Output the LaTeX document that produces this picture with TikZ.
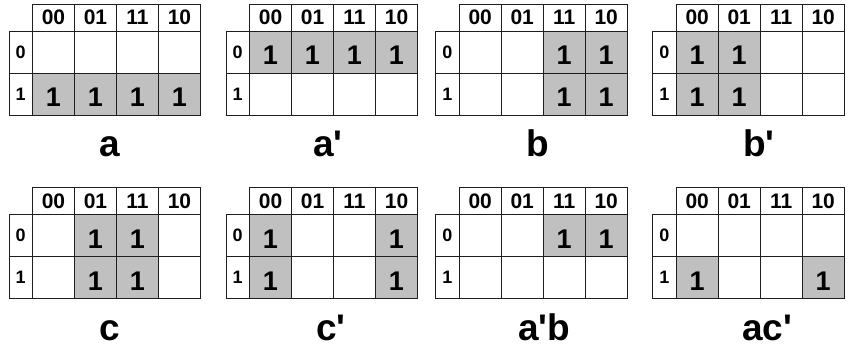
\documentclass[tikz,border=0pt]{standalone}
\usepackage{fontspec}
\setmainfont{Liberation Sans}
\usetikzlibrary{positioning}
\definecolor{kgray}{RGB}{192,192,192}
\definecolor{kline}{RGB}{30,30,30}

\tikzset{
    kbox/.style={draw=kline, line width=0.8pt, inner sep=0pt},
    kcell/.style={kbox, minimum width=42pt, minimum height=42pt},
    khead/.style={kbox, minimum width=42pt, minimum height=27pt, font=\fontsize{21}{21}\selectfont\bfseries},
    kside/.style={kbox, minimum width=23.5pt, minimum height=42pt, font=\fontsize{18}{18}\selectfont\bfseries},
    kfill/.style={fill=kgray, minimum width=42pt, minimum height=42pt, inner sep=0pt},
    kone/.style={inner sep=0pt, yshift=-3.5pt, font=\fontsize{27}{27}\selectfont\bfseries},
    kname/.style={anchor=base, inner sep=0pt, font=\fontsize{37}{37}\selectfont\bfseries}
}
\newcommand{\prm}{\textquotesingle}

% #1 name, #2/#3 top left corner, #4 cells holding a 1 (row/col)
\newcommand{\kmap}[4]{%
    \begin{scope}[shift={(#2,#3)}]
        \foreach \r/\c in {#4}
            \node[kfill] (#1-g\r\c) at (44.5+42*\c,48+42*\r) {};
        \foreach \c/\t in {0/00,1/01,2/11,3/10}
            \node[khead] (#1-h\c) at (44.5+42*\c,13.5) {\t};
        \foreach \r in {0,1} {
            \node[kside] (#1-s\r) at (11.75,48+42*\r) {\r};
            \foreach \c in {0,...,3}
                \node[kcell] (#1-\r\c) at (44.5+42*\c,48+42*\r) {};
        }
        \foreach \r/\c in {#4}
            \node[kone] (#1-one\r\c) at (#1-\r\c) {1};
    \end{scope}}

\begin{document}
\begin{tikzpicture}[x=1pt, y=-1pt]
    \useasboundingbox (0,0) rectangle (848,347);

    % top row
    \kmap{ma}{9}{4}{1/0,1/1,1/2,1/3}
    \kmap{mna}{226}{4}{0/0,0/1,0/2,0/3}
    \kmap{mb}{435.7}{4}{0/2,0/3,1/2,1/3}
    \kmap{mnb}{652.7}{4}{0/0,0/1,1/0,1/1}

    % bottom row
    \kmap{mc}{9}{187.3}{0/1,0/2,1/1,1/2}
    \kmap{mnc}{226}{187.3}{0/0,0/3,1/0,1/3}
    \kmap{mnab}{435.7}{187.3}{0/2,0/3}
    \kmap{manc}{652.7}{187.3}{1/0,1/3}

    \node[kname] (la) at (110,157) {a};
    \node[kname] (lna) at (328,157) {a\prm};
    \node[kname] (lb) at (538,157) {b};
    \node[kname] (lnb) at (759,157) {b\prm};
    \node[kname] (lc) at (110,340) {c};
    \node[kname] (lnc) at (331,340) {c\prm};
    \node[kname] (lnab) at (544,340) {a\prm b};
    \node[kname] (lanc) at (767,340) {ac\prm};
\end{tikzpicture}
\end{document}
